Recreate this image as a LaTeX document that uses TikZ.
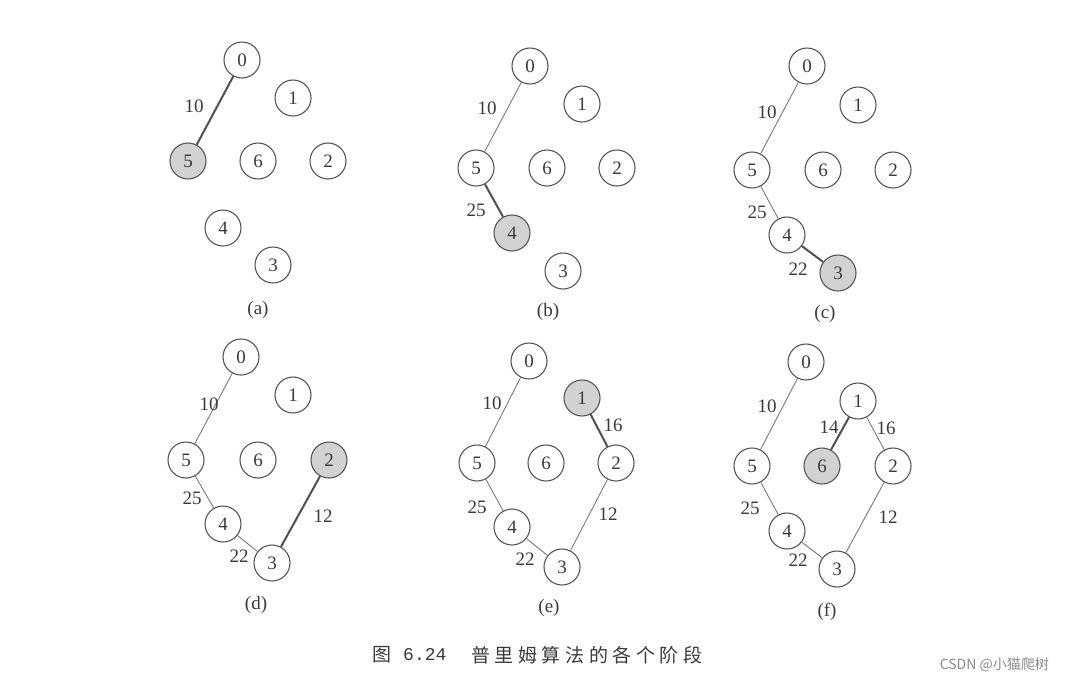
\documentclass[tikz,border=0pt]{standalone}
\usepackage{fontspec}
\setmainfont{Liberation Serif}
\setmonofont{Liberation Mono}
\newfontfamily\cjk{Noto Sans CJK SC}
\newfontfamily\cjkls[LetterSpace=24]{Noto Sans CJK SC}
\definecolor{circ}{HTML}{555555}
\definecolor{txt}{HTML}{3A3A3A}
\definecolor{selfill}{HTML}{D2D2D2}
\definecolor{edgec}{HTML}{6E6E6E}
\definecolor{newc}{HTML}{505050}
\definecolor{wm}{HTML}{8A8A8A}
\begin{document}
\begin{tikzpicture}[x=1pt,y=-1pt,
  vtx/.style={circle, draw=circ, line width=1.1pt, minimum size=36pt, inner sep=0pt, font=\fontsize{19}{19}\selectfont, text=txt},
  sel/.style={vtx, fill=selfill},
  tree/.style={draw=edgec, line width=0.8pt},
  newe/.style={draw=newc, line width=2pt},
  wlab/.style={font=\fontsize{19}{19}\selectfont, text=txt, inner sep=0pt},
  sub/.style={font=\fontsize{19}{19}\selectfont, text=txt, inner sep=0pt}]
\fill[white] (0,0) rectangle (1066,686);
\useasboundingbox (0,0) rectangle (1066,686);

% ---------- (a)
\node[vtx] (a0) at (242,60) {0};
\node[vtx] (a1) at (293,98) {1};
\node[sel] (a5) at (188,161) {5};
\node[vtx] (a6) at (258,161) {6};
\node[vtx] (a2) at (328,161) {2};
\node[vtx] (a4) at (223,228) {4};
\node[vtx] (a3) at (273,265) {3};
\draw[newe] (a0) -- (a5);
\node[wlab] (al10) at (194,106) {10};
\node[sub] (acap) at (258,310) {(a)};

% ---------- (b)
\node[vtx] (b0) at (530,66) {0};
\node[vtx] (b1) at (582,104) {1};
\node[vtx] (b5) at (476,168) {5};
\node[vtx] (b6) at (547,168) {6};
\node[vtx] (b2) at (617,168) {2};
\node[sel] (b4) at (512,233) {4};
\node[vtx] (b3) at (563,271) {3};
\draw[tree] (b0) -- (b5);
\draw[newe] (b5) -- (b4);
\node[wlab] (bl10) at (487,108) {10};
\node[wlab] (bl25) at (476,210) {25};
\node[sub] (bcap) at (548,312) {(b)};

% ---------- (c)
\node[vtx] (c0) at (807,66) {0};
\node[vtx] (c1) at (858,105) {1};
\node[vtx] (c5) at (752,170) {5};
\node[vtx] (c6) at (823,170) {6};
\node[vtx] (c2) at (893,170) {2};
\node[vtx] (c4) at (787,235) {4};
\node[sel] (c3) at (838,273) {3};
\draw[tree] (c0) -- (c5);
\draw[tree] (c5) -- (c4);
\draw[newe] (c4) -- (c3);
\node[wlab] (cl10) at (767,112) {10};
\node[wlab] (cl25) at (757,212) {25};
\node[wlab] (cl22) at (798,269) {22};
\node[sub] (ccap) at (825,314) {(c)};

% ---------- (d)
\node[vtx] (d0) at (241,357) {0};
\node[vtx] (d1) at (293,395) {1};
\node[vtx] (d5) at (186,460) {5};
\node[vtx] (d6) at (258,460) {6};
\node[sel] (d2) at (329,460) {2};
\node[vtx] (d4) at (223,524) {4};
\node[vtx] (d3) at (272,563) {3};
\draw[tree] (d0) -- (d5);
\draw[tree] (d5) -- (d4);
\draw[tree] (d4) -- (d3);
\draw[newe] (d2) -- (d3);
\node[wlab] (dl10) at (209,404) {10};
\node[wlab] (dl25) at (192,498) {25};
\node[wlab] (dl22) at (239,556) {22};
\node[wlab] (dl12) at (323,516) {12};
\node[sub] (dcap) at (256,605) {(d)};

% ---------- (e)
\node[vtx] (e0) at (529,361) {0};
\node[sel] (e1) at (582,398) {1};
\node[vtx] (e5) at (477,463) {5};
\node[vtx] (e6) at (546,463) {6};
\node[vtx] (e2) at (616,463) {2};
\node[vtx] (e4) at (512,527) {4};
\node[vtx] (e3) at (562,567) {3};
\draw[tree] (e0) -- (e5);
\draw[tree] (e5) -- (e4);
\draw[tree] (e4) -- (e3);
\draw[tree] (e3) -- (e2);
\draw[newe] (e1) -- (e2);
\node[wlab] (el10) at (492,403) {10};
\node[wlab] (el16) at (613,425) {16};
\node[wlab] (el25) at (477,507) {25};
\node[wlab] (el22) at (525,559) {22};
\node[wlab] (el12) at (608,514) {12};
\node[sub] (ecap) at (549,608) {(e)};

% ---------- (f)
\node[vtx] (f0) at (806,362) {0};
\node[vtx] (f1) at (858,401) {1};
\node[vtx] (f5) at (752,466) {5};
\node[sel] (f6) at (822,466) {6};
\node[vtx] (f2) at (893,466) {2};
\node[vtx] (f4) at (787,531) {4};
\node[vtx] (f3) at (837,569) {3};
\draw[tree] (f0) -- (f5);
\draw[tree] (f5) -- (f4);
\draw[tree] (f4) -- (f3);
\draw[tree] (f3) -- (f2);
\draw[tree] (f1) -- (f2);
\draw[newe] (f1) -- (f6);
\node[wlab] (fl10) at (767,406) {10};
\node[wlab] (fl14) at (829,427) {14};
\node[wlab] (fl16) at (886,428) {16};
\node[wlab] (fl25) at (750,508) {25};
\node[wlab] (fl22) at (798,560) {22};
\node[wlab] (fl12) at (888,517) {12};
\node[sub] (fcap) at (827,612) {(f)};

% ---------- caption and watermark
\node[anchor=west, inner sep=0pt, text=txt, font=\cjk\fontsize{19}{19}\selectfont] (capfig) at (372,655) {图};
\node[anchor=west, inner sep=0pt, text=txt, font=\ttfamily\fontsize{18}{18}\selectfont] (capnum) at (403,655) {6.24};
\node[anchor=west, inner sep=0pt, text=txt, font=\cjkls\fontsize{19}{19}\selectfont] (captext) at (471,655) {普里姆算法的各个阶段};
\node[anchor=east, inner sep=0pt, text=wm, font=\cjk\fontsize{14}{14}\selectfont] (wmark) at (1049,665) {CSDN @小猫爬树};
\end{tikzpicture}
\end{document}
